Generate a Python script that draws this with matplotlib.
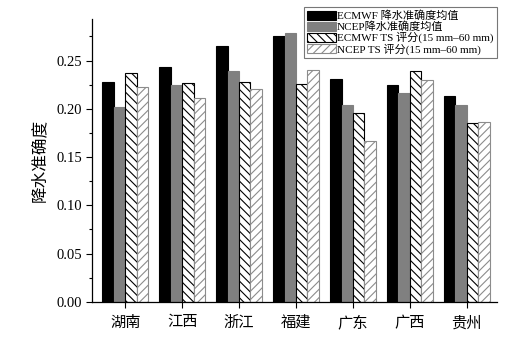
import numpy as np
import matplotlib
matplotlib.use("Agg")
import matplotlib.pyplot as plt
from matplotlib.ticker import MultipleLocator

plt.rcParams['font.family'] = ['Liberation Serif', 'Noto Sans CJK SC']
plt.rcParams['hatch.linewidth'] = 0.8

provinces = ['湖南', '江西', '浙江', '福建', '广东', '广西', '贵州']
ecmwf_acc = [0.228, 0.243, 0.265, 0.275, 0.231, 0.225, 0.213]
ncep_acc = [0.202, 0.225, 0.239, 0.279, 0.204, 0.216, 0.204]
ecmwf_ts = [0.237, 0.227, 0.228, 0.226, 0.196, 0.239, 0.185]
ncep_ts = [0.223, 0.211, 0.221, 0.240, 0.167, 0.230, 0.186]
labels = ['ECMWF 降水准确度均值', 'NCEP降水准确度均值',
          'ECMWF TS 评分(15 mm–60 mm)', 'NCEP TS 评分(15 mm–60 mm)']

fig = plt.figure(figsize=(5.27, 3.38), dpi=100)
ax = fig.add_axes([0.175, 0.107, 0.768, 0.838])

x = np.arange(len(provinces))
w = 0.2
ax.bar(x - 1.5*w, ecmwf_acc, w, color='black', edgecolor='black', linewidth=0.8, label=labels[0])
ax.bar(x - 0.5*w, ncep_acc, w, color='#808080', edgecolor='#808080', linewidth=0.8, label=labels[1])
ax.bar(x + 0.5*w, ecmwf_ts, w, color='white', edgecolor='black', hatch='\\\\\\\\', linewidth=0.8, label=labels[2])
ax.bar(x + 1.5*w, ncep_ts, w, color='white', edgecolor='#8c8c8c', hatch='////', linewidth=0.8, label=labels[3])

ax.set_xlim(-0.58, 6.53)
ax.set_ylim(0, 0.2935)
ax.set_xticks(x)
ax.set_xticklabels(provinces, fontsize=11)
ax.yaxis.set_minor_locator(MultipleLocator(0.025))
ax.set_yticks(np.arange(0, 0.26, 0.05))
ax.yaxis.set_major_formatter(plt.FormatStrFormatter('%.2f'))
ax.tick_params(axis='y', labelsize=10.5, direction='out', length=4, width=0.8)
ax.tick_params(axis='y', which='minor', direction='out', length=2.5, width=0.8)
ax.tick_params(axis='x', direction='out', length=4, width=0.8, pad=6)
ax.set_ylabel('降水准确度', fontsize=12, labelpad=6)

for s in ['top', 'right']:
    ax.spines[s].set_visible(False)
for s in ['left', 'bottom']:
    ax.spines[s].set_linewidth(0.9)

leg = ax.legend(loc='upper right', bbox_to_anchor=(1.0, 1.04), fontsize=8,
                frameon=True, fancybox=False, edgecolor='#555555',
                handlelength=2.6, handleheight=0.85, handletextpad=0.1,
                labelspacing=0.0, borderpad=0.3, borderaxespad=0.0)
leg.get_frame().set_linewidth(0.8)

fig.savefig('out.png', dpi=100)
